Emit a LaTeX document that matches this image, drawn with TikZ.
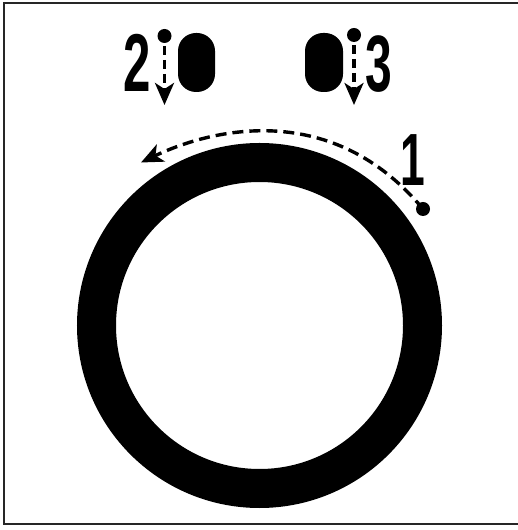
\documentclass[tikz,border=0pt]{standalone}
\usepackage{fontspec}
\setmainfont{Liberation Sans}
\usetikzlibrary{arrows.meta}
\tikzset{
  x=1pt, y=1pt,
  frame/.style={draw=black!85, line width=1.6pt},
  ring/.style={draw=black, line width=39pt},
  blob/.style={fill=black, rounded corners=18pt, minimum width=37pt, minimum height=59pt, inner sep=0pt, draw=none},
  pin/.style={circle, fill=black, minimum size=14pt, inner sep=0pt},
  dashline/.style={line width=3.4pt, dash pattern=on 11pt off 6pt, -{Stealth[length=22pt, width=19pt, inset=6pt]}},
  digit/.style={inner sep=0pt, font=\bfseries}
}
\newcommand{\cond}[2]{\fontsize{#1}{#1}\selectfont\scalebox{0.6}[1]{#2}}
\begin{document}
\begin{tikzpicture}
\useasboundingbox (0,0) rectangle (517,530);
\draw[frame] (4,527) rectangle (522,6);
% ring
\coordinate (c) at (259.5,204.5);
\draw[ring] (c) circle[radius=163];
% top blobs
\node[blob] (o1) at (196.5,467.5) {};
\node[blob, minimum width=38pt] (o2) at (324,467.5) {};
% pins and dashed arrows
\node[pin] (p2) at (164.5,494) {};
\coordinate (t2) at (164.5,425);
\node[pin] (p3) at (354,495) {};
\coordinate (t3) at (354,425);
\draw[dashline, dash pattern=on 9pt off 5pt] (p2.center) ++(0,-10) -- (t2);
\draw[dashline, dash pattern=on 9pt off 5pt] (p3.center) ++(0,-10) -- (t3);
% digits
\node[digit] (n2) at (137.5,467) {\cond{82pt}{2}};
\node[digit] (n3) at (378.5,466) {\cond{80pt}{3}};
\node[digit] (n1) at (413,370) {\cond{74pt}{1}};
% arc arrow
\node[pin] (p1) at (423,321) {};
\coordinate (t1) at (141,367.5);
\draw[dashline] (p1.center) .. controls (332.4,430) and (212.9,401.9) .. (t1);
\end{tikzpicture}
\end{document}
